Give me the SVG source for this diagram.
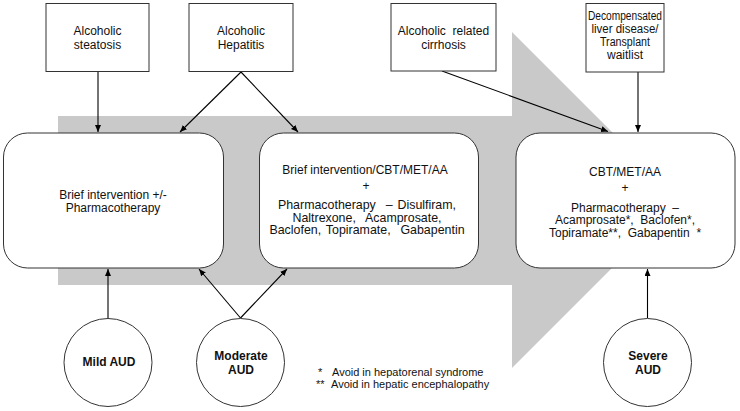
<svg xmlns="http://www.w3.org/2000/svg" width="740" height="411" viewBox="0 0 740 411">
<defs>
<marker id="ah" markerUnits="userSpaceOnUse" markerWidth="8" markerHeight="7" refX="7" refY="3" orient="auto">
<path d="M0,0 L7,3 L0,6 z" fill="#000"/>
</marker>
<style>
text{font-family:"Liberation Sans",Arial,sans-serif;font-size:12px;fill:#111;text-anchor:middle;white-space:pre}
.b{font-weight:bold}
.fn{font-size:11px;text-anchor:start}
.wide{font-size:12.4px;word-spacing:1.5px}
.box{fill:#fff;stroke:#333;stroke-width:1}
.rbox{fill:#fff;stroke:#333;stroke-width:1}
.circ{fill:#fff;stroke:#333;stroke-width:1}
.con{stroke:#000;stroke-width:1.1;fill:none;marker-end:url(#ah)}
</style>
</defs>
<rect width="740" height="411" fill="#fff"/>
<path id="bigArrow" d="M58,116 L512,116 L512,32 L680,200 L512,368 L512,285 L58,285 Z" fill="#c9c9c9"/>

<g id="connectors">
<line class="con" x1="98" y1="72" x2="98" y2="132"/>
<line class="con" x1="241" y1="72" x2="180" y2="132"/>
<line class="con" x1="241" y1="72" x2="298" y2="132"/>
<line class="con" x1="442" y1="71" x2="608" y2="131.5"/>
<line class="con" x1="638" y1="72" x2="638" y2="132"/>
<line class="con" x1="108" y1="318" x2="108" y2="269"/>
<line class="con" x1="240.5" y1="318" x2="199" y2="269"/>
<line class="con" x1="240.5" y1="318" x2="287" y2="269"/>
<line class="con" x1="647.5" y1="318" x2="647.5" y2="269"/>
</g>

<g id="steatosis">
<rect class="box" x="46" y="3.5" width="103" height="68"/>
<text x="97.5" y="35">Alcoholic</text>
<text x="97.5" y="48.5">steatosis</text>
</g>
<g id="hepatitis">
<rect class="box" x="189" y="3.5" width="104" height="68"/>
<text x="241" y="35">Alcoholic</text>
<text x="241" y="48.5">Hepatitis</text>
</g>
<g id="cirrhosis">
<rect class="box" x="391" y="3.5" width="105" height="67.5"/>
<text x="443.5" y="35">Alcoholic  related</text>
<text x="443.5" y="48.5">cirrhosis</text>
</g>
<g id="decompensated">
<rect class="box" x="586" y="3.5" width="78" height="68.5"/>
<text x="625" y="19.5" textLength="74" lengthAdjust="spacingAndGlyphs">Decompensated</text>
<text x="625" y="32.5" textLength="67" lengthAdjust="spacingAndGlyphs">liver disease/</text>
<text x="625" y="45.5" textLength="50" lengthAdjust="spacingAndGlyphs">Transplant</text>
<text x="625" y="58.5" textLength="36" lengthAdjust="spacingAndGlyphs">waitlist</text>
</g>

<g id="mildBox">
<rect class="rbox" x="3.5" y="133" width="220" height="135" rx="24" ry="24"/>
<text x="113" y="199">Brief intervention +/-</text>
<text x="113" y="212">Pharmacotherapy</text>
</g>
<g id="moderateBox">
<rect class="rbox" x="259.5" y="133" width="219" height="135" rx="24" ry="24"/>
<text x="365" y="174">Brief intervention/CBT/MET/AA</text>
<text x="366" y="190">+</text>
<text class="wide" x="367" y="209">Pharmacotherapy  – Disulfiram,</text>
<text class="wide" x="367" y="221.5">Naltrexone,  Acamprosate,</text>
<text class="wide" x="367" y="234">Baclofen, Topiramate,  Gabapentin</text>
</g>
<g id="severeBox">
<rect class="rbox" x="516" y="133" width="219" height="135" rx="24" ry="24"/>
<text x="625" y="176">CBT/MET/AA</text>
<text x="625" y="192">+</text>
<text x="625" y="211.5">Pharmacotherapy  –</text>
<text x="625" y="224">Acamprosate*,  Baclofen*,</text>
<text x="625" y="236.5">Topiramate**,  Gabapentin  *</text>
</g>

<g id="mildAUD">
<circle class="circ" cx="108" cy="362.5" r="44"/>
<text class="b" x="109" y="366">Mild AUD</text>
</g>
<g id="moderateAUD">
<circle class="circ" cx="240.5" cy="362.5" r="44"/>
<text class="b" x="241" y="360">Moderate</text>
<text class="b" x="241" y="374">AUD</text>
</g>
<g id="severeAUD">
<circle class="circ" cx="647.5" cy="362.5" r="44"/>
<text class="b" x="648" y="360">Severe</text>
<text class="b" x="648" y="374">AUD</text>
</g>

<g id="footnote">
<text class="fn" x="318" y="375.5">*<tspan x="332">Avoid in hepatorenal syndrome</tspan></text>
<text class="fn" x="316" y="388">**<tspan x="331">Avoid in hepatic encephalopathy</tspan></text>
</g>
</svg>
